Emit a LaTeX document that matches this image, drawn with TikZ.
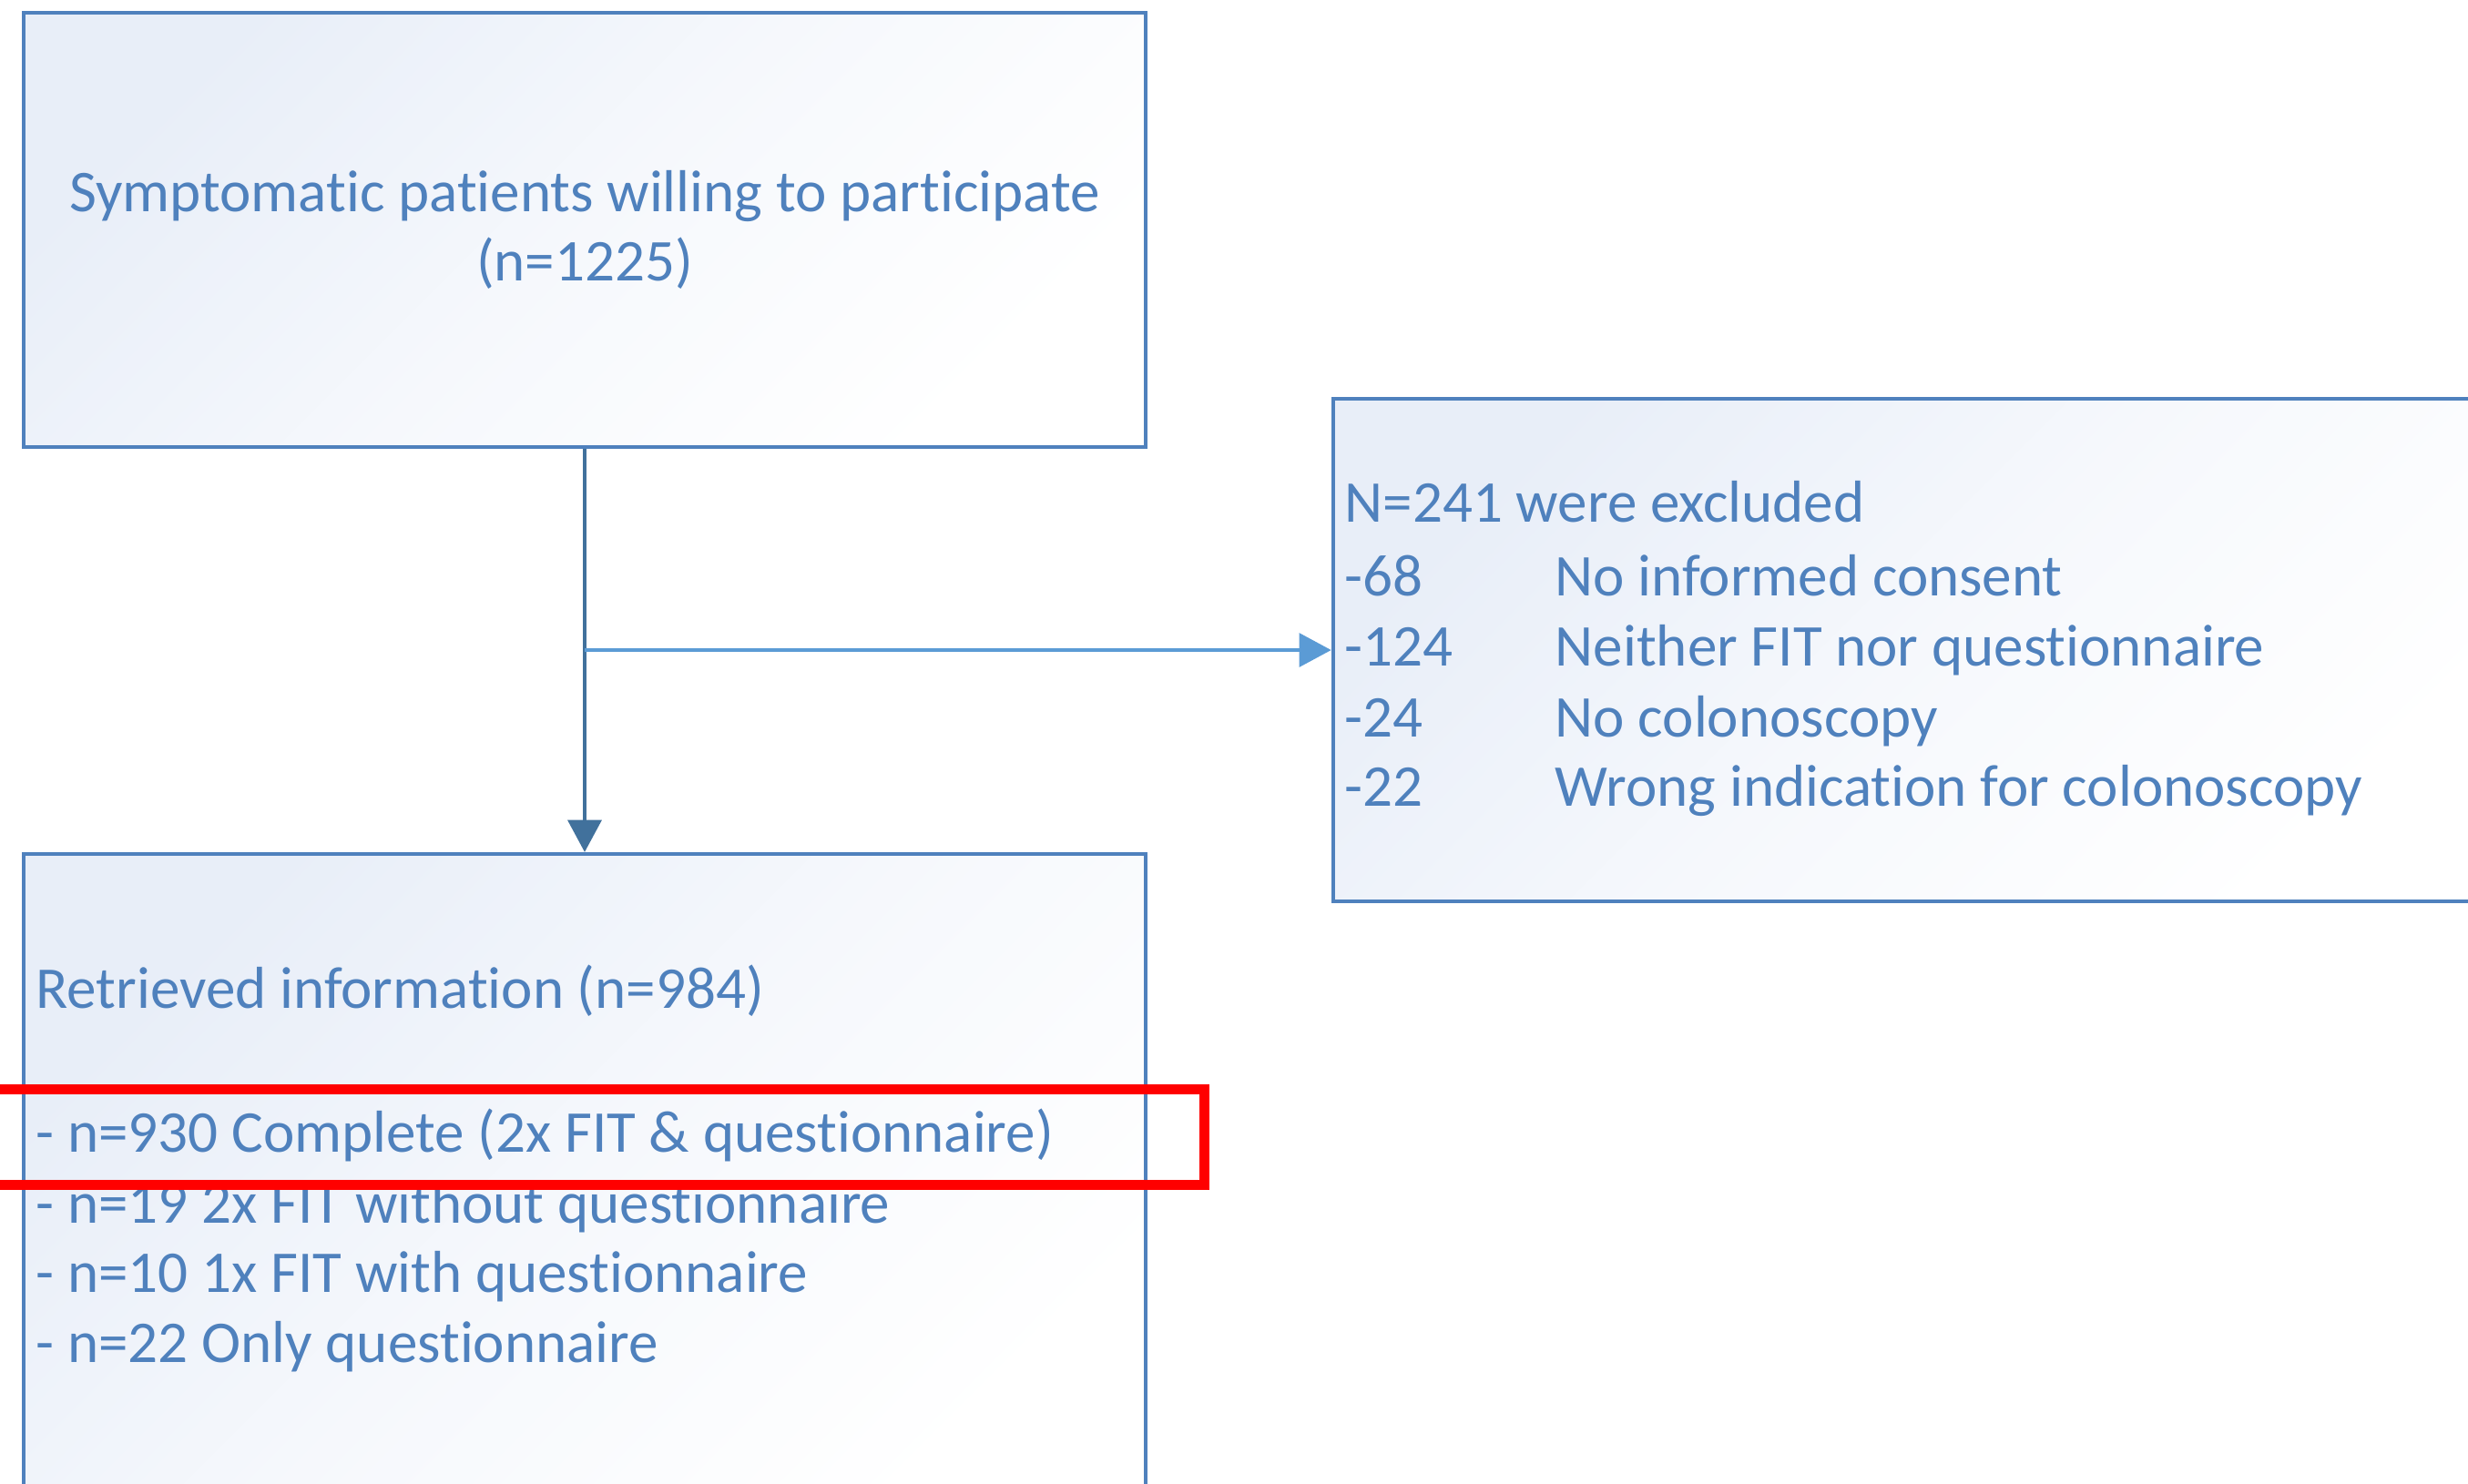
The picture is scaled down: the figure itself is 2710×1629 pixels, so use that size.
\documentclass[tikz,border=0pt]{standalone}
\usepackage{fontspec}
\setmainfont[RawFeature={-liga;-calt;-clig}]{Carlito}
\usetikzlibrary{arrows.meta}
\definecolor{txtblue}{RGB}{79,129,189}
\definecolor{boxline}{RGB}{79,129,189}
\definecolor{darkarrow}{RGB}{65,113,156}
\definecolor{lightarrow}{RGB}{91,155,213}
\definecolor{fillblue}{RGB}{232,238,248}
\definecolor{hired}{RGB}{255,0,0}
\begin{document}
\begin{tikzpicture}[x=0.01cm,y=-0.01cm,
  box/.style={draw=boxline, line width=1.1pt, rectangle, inner sep=0pt,
    top color=fillblue, bottom color=white, middle color=white!60!fillblue, shading angle=45},
  txt/.style={text=txtblue, font=\fontsize{18.5}{21.8}\selectfont, inner sep=0pt, anchor=base west},
  conn/.style={line width=1pt, -{Triangle[length=10pt,width=10.5pt]}}]
\clip (0,0) rectangle (2710,1629);
\fill[white] (0,0) rectangle (2710,1629);
% boxes
\node[box, minimum width=12.32cm, minimum height=4.77cm, align=center,
  text=txtblue, font=\fontsize{18.5}{21.8}\selectfont] (start) at (642,252.5)
  {Symptomatic patients willing to participate\\(n=1225)};
\node[box, minimum width=12.80cm, minimum height=5.51cm] (excl) at (2104,714) {};
\node[box, minimum width=12.32cm, minimum height=7.30cm] (retr) at (642,1303) {};
% connectors
\draw[conn, darkarrow] (start.south) -- (retr.north);
\coordinate (split) at (start.south |- excl.west);
\draw[conn, lightarrow] (split) -- (excl.west);
% excluded text
\node[txt] (exh) at (1476,573) {N=241 were excluded};
\node[txt] (e1n) at (1476,654) {-68};
\node[txt] (e1t) at (1707,654) {No informed consent};
\node[txt] (e2n) at (1476,731) {-124};
\node[txt] (e2t) at (1707,731) {Neither FIT nor questionnaire};
\node[txt] (e3n) at (1476,809) {-24};
\node[txt] (e3t) at (1707,809) {No colonoscopy};
\node[txt] (e4n) at (1476,885) {-22};
\node[txt] (e4t) at (1707,885) {Wrong indication for colonoscopy};
% retrieved text
\node[txt] (rh) at (39,1107) {Retrieved information (n=984)};
\node[txt] (r1) at (39,1265) {- n=930 Complete (2x FIT \& questionnaire)};
\node[txt] (r2) at (39,1343) {- n=19 2x FIT without questionnaire};
\node[txt] (r3) at (39,1419) {- n=10 1x FIT with questionnaire};
\node[txt] (r4) at (39,1496) {- n=22 Only questionnaire};
% highlight
\node[draw=hired, line width=3.1pt, inner sep=0pt, minimum width=13.32cm,
  minimum height=1.05cm] (hl) at (656,1249) {};
\end{tikzpicture}
\end{document}
